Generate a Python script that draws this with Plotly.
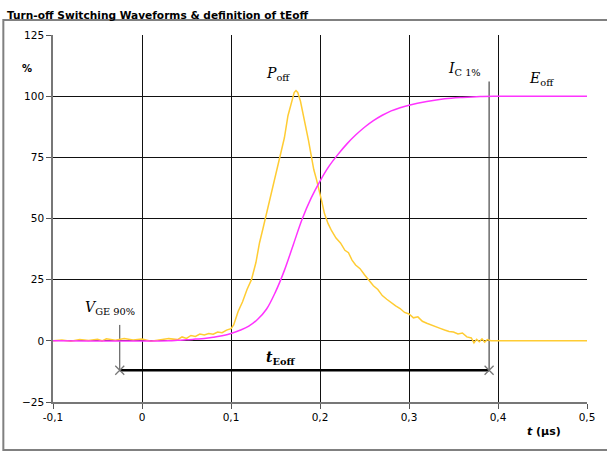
import plotly.graph_objects as go

# ---- data ----
t_poff = [-0.100, -0.090, -0.080, -0.070, -0.060, -0.050, -0.045, -0.040, -0.030, -0.020,
          -0.010, 0.000, 0.010, 0.020, 0.030, 0.040, 0.045, 0.050, 0.055, 0.060,
          0.065, 0.070, 0.075, 0.080, 0.085, 0.090, 0.095, 0.100, 0.103, 0.108,
          0.113, 0.118, 0.123, 0.128, 0.132, 0.136, 0.140, 0.144, 0.148, 0.152,
          0.156, 0.160, 0.164, 0.168, 0.171, 0.173, 0.175, 0.178, 0.181, 0.184,
          0.187, 0.190, 0.193, 0.196, 0.199, 0.202, 0.205, 0.209, 0.213, 0.218,
          0.223, 0.228, 0.232, 0.236, 0.240, 0.245, 0.250, 0.255, 0.260, 0.265,
          0.270, 0.275, 0.280, 0.285, 0.290, 0.295, 0.300, 0.305, 0.310, 0.315,
          0.320, 0.325, 0.330, 0.335, 0.340, 0.345, 0.350, 0.355, 0.360, 0.365,
          0.370, 0.373, 0.376, 0.379, 0.382, 0.385, 0.388, 0.392, 0.500]
p_off = [0.0, 0.3, -0.2, 0.5, 0.1, 0.6, 0.0, 0.8, 0.2, 0.9,
         0.3, 0.7, -0.2, 0.4, 0.9, 0.5, 1.6, 1.0, 2.2, 1.8,
         2.8, 2.4, 3.0, 2.7, 3.6, 3.3, 4.4, 5.0, 6.5, 12.0,
         16.0, 21.0, 25.0, 32.0, 40.0, 46.0, 52.0, 58.0, 64.0, 70.0,
         76.0, 83.0, 92.0, 98.0, 101.5, 102.3, 101.5, 98.0, 93.0, 88.0,
         82.0, 76.0, 70.0, 66.0, 62.0, 57.0, 52.0, 48.0, 45.0, 42.0,
         40.0, 37.0, 36.0, 33.0, 31.0, 29.5, 27.0, 24.5, 22.5, 21.0,
         18.5, 17.0, 15.5, 14.3, 13.2, 11.6, 11.0, 9.4, 9.8, 8.0,
         7.2, 6.4, 5.6, 5.1, 4.4, 3.8, 3.6, 2.8, 3.2, 1.6,
         1.2, -0.8, 0.6, -0.4, 0.8, -0.5, 0.5, 0.0, 0.0]

t_eoff = [-0.10, 0.03, 0.04, 0.05, 0.06, 0.07, 0.08, 0.09, 0.10, 0.11,
          0.12, 0.13, 0.14, 0.15, 0.16, 0.17, 0.18, 0.19, 0.20, 0.21,
          0.22, 0.23, 0.24, 0.25, 0.26, 0.27, 0.28, 0.29, 0.30, 0.32,
          0.34, 0.36, 0.38, 0.40, 0.50]
e_off = [0.0, 0.0, 0.2, 0.4, 0.7, 1.0, 1.5, 2.1, 3.0, 4.3,
         6.0, 8.8, 13.0, 20.0, 28.8, 39.3, 49.8, 58.3, 65.3, 71.3,
         76.1, 80.4, 84.1, 87.3, 90.0, 92.2, 94.0, 95.3, 96.3, 97.8,
         98.9, 99.5, 99.9, 100.0, 100.0]

# definition markers
t_start = -0.025   # V_GE 90%
t_end = 0.39       # I_C 1%
y_teoff = -12
y_vge_top = 6.5
y_ic_top = 106

x_tickvals = [-0.1, 0, 0.1, 0.2, 0.3, 0.4, 0.5]
x_ticktext = ["-0,1", "0", "0,1", "0,2", "0,3", "0,4", "0,5"]
y_tickvals = [-25, 0, 25, 50, 75, 100, 125]

fig = go.Figure()

# definition lines
fig.add_trace(go.Scatter(x=[t_start, t_start], y=[y_teoff, y_vge_top], mode="lines",
                         line=dict(color="#444444", width=1), hoverinfo="skip", showlegend=False))
fig.add_trace(go.Scatter(x=[t_end, t_end], y=[y_teoff, y_ic_top], mode="lines",
                         line=dict(color="#222222", width=1), hoverinfo="skip", showlegend=False))
fig.add_trace(go.Scatter(x=[t_start, t_end], y=[y_teoff, y_teoff], mode="lines",
                         line=dict(color="black", width=2.5), hoverinfo="skip", showlegend=False))
fig.add_trace(go.Scatter(x=[t_start, t_end], y=[y_teoff, y_teoff], mode="markers",
                         marker=dict(symbol="x-thin", size=9, line=dict(color="#777777", width=1.3)),
                         hoverinfo="skip", showlegend=False))

fig.add_trace(go.Scatter(x=t_poff, y=p_off, mode="lines", name="Poff",
                         line=dict(color="#FFCC33", width=1.5), showlegend=False))
fig.add_trace(go.Scatter(x=t_eoff, y=e_off, mode="lines", name="Eoff", line_shape="spline",
                         line=dict(color="#FF33FF", width=1.5), showlegend=False))

serif = "DejaVu Serif"
ann_font = dict(family=serif, size=14, color="black")
annotations = [
    dict(x=0.153, y=109, text="<i>P</i><sub>off</sub>"),
    dict(x=0.449, y=107, text="<i>E</i><sub>off</sub>"),
    dict(x=0.362, y=111, text="<i>I</i><sub>C 1%</sub>"),
    dict(x=-0.036, y=13.5, text="<i>V</i><sub>GE 90%</sub>"),
    dict(x=0.156, y=-7, text="<b><i>t</i><sub>Eoff</sub></b>"),
]
for a in annotations:
    a.update(xref="x", yref="y", showarrow=False, font=ann_font)
annotations.append(dict(xref="paper", yref="paper", x=-0.062, y=0.93, text="<b>%</b>",
                        showarrow=False, font=dict(family="DejaVu Sans", size=10, color="black")))
annotations.append(dict(xref="paper", yref="paper", x=0.92, y=-0.104, xanchor="center",
                        text="<b><i>t</i> (µs)</b>", showarrow=False,
                        font=dict(family="DejaVu Sans", size=11, color="black")))
annotations.append(dict(xref="paper", yref="paper", x=-0.09, y=1.075, xanchor="left",
                        text="<b>Turn-off Switching Waveforms &amp; definition of tEoff</b>",
                        showarrow=False, font=dict(family="DejaVu Sans", size=10.6, color="black")))

shapes = [
    # outer chart border (right edge runs off the picture, as in the reference)
    dict(type="rect", xref="paper", yref="paper", x0=-0.093, x1=1.045, y0=-0.131, y1=1.041,
         line=dict(color="#808080", width=2), fillcolor="rgba(0,0,0,0)", layer="below"),
]

fig.update_layout(
    width=607, height=453,
    margin=dict(l=53, r=17, t=35, b=51),
    paper_bgcolor="white", plot_bgcolor="white",
    annotations=annotations, shapes=shapes,
    font=dict(family="DejaVu Sans", size=10.5, color="black"),
)
fig.update_xaxes(range=[-0.1, 0.5], tickvals=x_tickvals, ticktext=x_ticktext,
                 showgrid=True, gridcolor="#111111", gridwidth=1, zeroline=False,
                 showline=True, linecolor="#777777", linewidth=1.5, mirror=False,
                 ticks="outside", ticklen=5, tickcolor="#555555")
fig.update_yaxes(range=[-25, 125], tickvals=y_tickvals,
                 showgrid=True, gridcolor="#111111", gridwidth=1, zeroline=False,
                 showline=True, linecolor="#777777", linewidth=1.5, mirror=False,
                 ticks="outside", ticklen=5, tickcolor="#555555")

fig.write_html("out.html", config={"displayModeBar": False},
               post_script="document.body.style.margin='0';document.body.style.overflow='hidden';")
